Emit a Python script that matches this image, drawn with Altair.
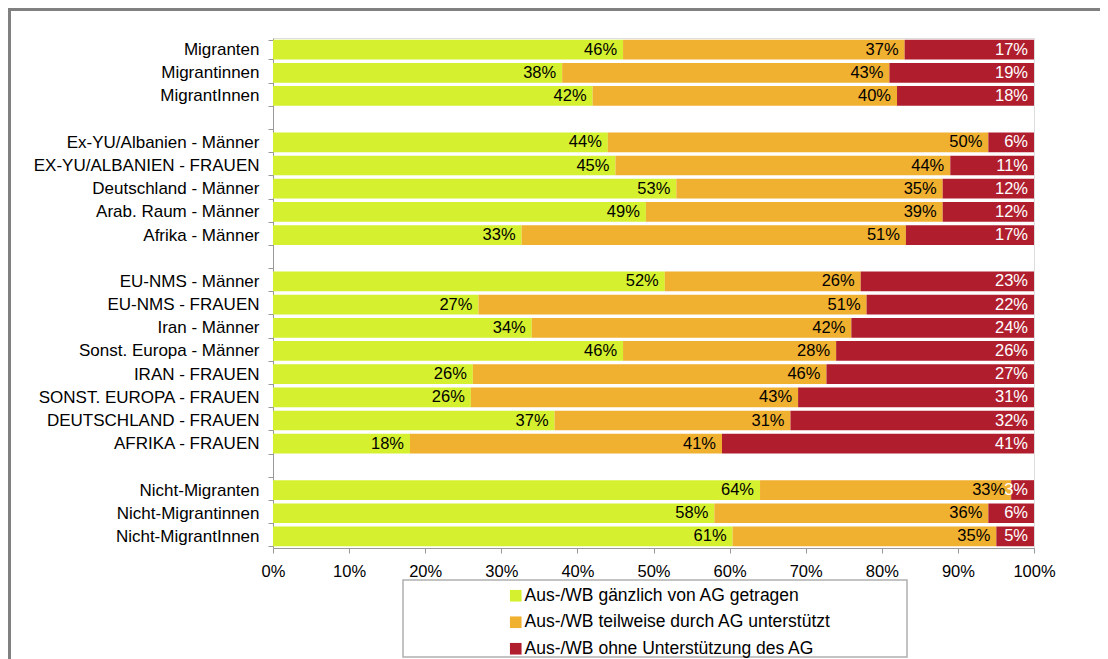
import altair as alt
import pandas as pd

# ---- data ----
row_order = [
    "Migranten", "Migrantinnen", "MigrantInnen", " ",
    "Ex-YU/Albanien - Männer", "EX-YU/ALBANIEN - FRAUEN", "Deutschland - Männer",
    "Arab. Raum - Männer", "Afrika - Männer", "  ",
    "EU-NMS - Männer", "EU-NMS - FRAUEN", "Iran - Männer", "Sonst. Europa - Männer",
    "IRAN - FRAUEN", "SONST. EUROPA - FRAUEN", "DEUTSCHLAND - FRAUEN", "AFRIKA - FRAUEN", "   ",
    "Nicht-Migranten", "Nicht-Migrantinnen", "Nicht-MigrantInnen",
]
groups = [r for r in row_order if r.strip()]

gaenzlich = [46, 38, 42, 44, 45, 53, 49, 33, 52, 27, 34, 46, 26, 26, 37, 18, 64, 58, 61]
teilweise = [37, 43, 40, 50, 44, 35, 39, 51, 26, 51, 42, 28, 46, 43, 31, 41, 33, 36, 35]
ohne = [17, 19, 18, 6, 11, 12, 12, 17, 23, 22, 24, 26, 27, 31, 32, 41, 3, 6, 5]

series_names = [
    "Aus-/WB gänzlich von AG getragen",
    "Aus-/WB teilweise durch AG unterstützt",
    "Aus-/WB ohne Unterstützung des AG",
]
series_colors = ["#d4f02f", "#f0b030", "#b01e2e"]
x_ticks = [0, 0.1, 0.2, 0.3, 0.4, 0.5, 0.6, 0.7, 0.8, 0.9, 1.0]

# ---- long table (normalized stacks) ----
rows = []
for g, a, b, c in zip(groups, gaenzlich, teilweise, ohne):
    vals = [a, b, c]
    total = float(sum(vals))
    cum = 0.0
    for k, v in enumerate(vals):
        rows.append({
            "group": g, "series": series_names[k], "sidx": k,
            "start": cum / total, "end": (cum + v) / total, "label": f"{v}%",
        })
        cum += v
df = pd.DataFrame(rows)

FONT = "Liberation Sans"
W, H = 761, 510
PAD = {"left": 265, "top": 30, "right": 66, "bottom": 111}
LEG_X, LEG_Y, LEG_W, LEG_H = 130, 542, 504, 77

y_enc = alt.Y(
    "group:N",
    scale=alt.Scale(domain=row_order, paddingInner=0.15, paddingOuter=0.075),
    axis=alt.Axis(
        title=None, labelFont=FONT, labelFontSize=17, labelColor="black",
        tickSize=5, tickColor="#999999", domainColor="#999999",
        labelPadding=9, tickBand="extent", labelLimit=400, grid=False,
    ),
)

deco_df = pd.DataFrame({"k": [0]})

# legend frame (decoration behind the legend)
legend_box = alt.Chart(deco_df).mark_rect(
    fill="white", stroke="#b0b0b0", strokeWidth=1.5
).encode(
    x=alt.value(LEG_X), x2=alt.value(LEG_X + LEG_W),
    y=alt.value(LEG_Y), y2=alt.value(LEG_Y + LEG_H),
)

base = alt.Chart(df)

bars = base.mark_bar().encode(
    y=y_enc,
    x=alt.X(
        "start:Q",
        scale=alt.Scale(domain=[0, 1], nice=False),
        axis=alt.Axis(
            title=None, format=".0%", values=x_ticks, labelFont=FONT,
            labelFontSize=16.5, labelColor="black", tickSize=5,
            tickColor="#999999", domainColor="#999999", labelPadding=10,
            grid=False, labelFlush=False, labelOverlap=False,
        ),
    ),
    x2="end:Q",
    color=alt.Color(
        "series:N",
        scale=alt.Scale(domain=series_names, range=series_colors),
        legend=alt.Legend(
            title=None, orient="none", legendX=LEG_X, legendY=LEG_Y,
            direction="vertical", symbolType="square", symbolSize=135,
            symbolStrokeWidth=0, labelFont=FONT, labelFontSize=17.5,
            labelColor="black", labelLimit=1000, padding=7,
            symbolOffset=97, rowPadding=7.5, labelOffset=0,
        ),
    ),
)

labels = base.mark_text(
    align="right", baseline="middle", dx=-6, font=FONT, fontSize=16.5
).encode(
    y=alt.Y("group:N", scale=alt.Scale(domain=row_order)),
    x=alt.X("end:Q"),
    text="label:N",
    color=alt.condition("datum.sidx == 2", alt.value("white"), alt.value("black")),
)

frame_top = alt.Chart(deco_df).mark_rule(color="#808080", strokeWidth=3).encode(
    x=alt.value(-PAD["left"]), x2=alt.value(W + PAD["right"]), y=alt.value(-PAD["top"] + 1.5)
)
frame_left = alt.Chart(deco_df).mark_rule(color="#808080", strokeWidth=3).encode(
    x=alt.value(-PAD["left"] + 1.5), y=alt.value(-PAD["top"]), y2=alt.value(H + PAD["bottom"])
)

chart = (
    alt.layer(legend_box, bars, labels, frame_top, frame_left)
    .properties(width=W, height=H, padding=PAD, autosize=alt.AutoSizeParams(type="none"))
    .configure_view(stroke=None)
    .configure(background="white")
)

chart.save("out.html", embed_options={"renderer": "svg", "actions": False})
